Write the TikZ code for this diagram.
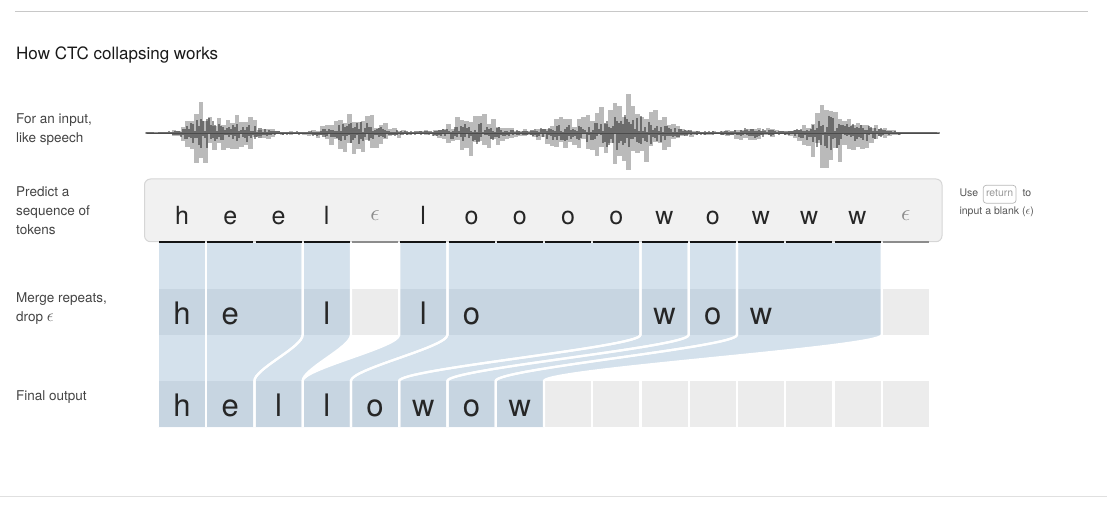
\documentclass[tikz,border=0pt]{standalone}
\usepackage{graphicx}
\usepackage{fontspec}
\setmainfont{TeX Gyre Heros}
\definecolor{flowc}{HTML}{D4E1EC}
\definecolor{cellb}{HTML}{C7D5E1}
\definecolor{cellg}{HTML}{ECECEC}
\definecolor{labc}{HTML}{444444}
\definecolor{notec}{HTML}{555555}
\definecolor{boxf}{HTML}{F1F1F1}
\definecolor{boxd}{HTML}{D6D6D6}
\definecolor{rulet}{HTML}{C8C8C8}
\definecolor{ruleb}{HTML}{E0E0E0}
\begin{document}
\begin{tikzpicture}[x=1pt,y=-1pt,
  declare function={
    gs(\ta,\tc,\tw)=exp(max(-12,-1*((\ta-\tc)/\tw)^2));
    env(\ta)=1.5+32*gs(\ta,202,16)+18*gs(\ta,240,24)+22*gs(\ta,357,30)+22*gs(\ta,475,28)
      +13*gs(\ta,560,25)+38*gs(\ta,628,40)+8*gs(\ta,752,20)+36*gs(\ta,828,22)+14*gs(\ta,866,18);
  },
  lab/.style={anchor=base west,inner sep=0pt,text=labc,font=\fontsize{13.5}{15}\selectfont},
  note/.style={anchor=base west,inner sep=0pt,text=notec,font=\fontsize{10.5}{12}\selectfont},
  tok/.style={anchor=base,inner sep=0pt,text=black!85,font=\fontsize{25}{25}\selectfont},
  epstok/.style={anchor=base,inner sep=0pt,text=black!45,font=\fontsize{10}{10}\selectfont},
  big/.style={anchor=base,inner sep=0pt,text=black!85,font=\fontsize{31}{31}\selectfont},
  cellnode/.style={minimum width=46pt,minimum height=46pt,inner sep=0pt,draw=none},
  sep/.style={draw=white,line width=2.25pt},
]
\useasboundingbox (0,0) rectangle (1107,510);
% rules
\draw[rulet,line width=1pt] (15,11.3) -- (1088,11.3);
\draw[ruleb,line width=1pt] (0,496.3) -- (1107,496.3);
% title and labels
\node[anchor=base west,inner sep=0pt,text=black!90,font=\fontsize{17}{19}\selectfont] (title) at (16,60) {How CTC collapsing works};
\node[lab] (la1) at (16,124) {For an input,};
\node[lab] (la2) at (16,143) {like speech};
\node[lab] (lb1) at (16,196.5) {Predict a};
\node[lab] (lb2) at (16,215.5) {sequence of};
\node[lab] (lb3) at (16,234.5) {tokens};
\node[lab] (lc1) at (16,302.7) {Merge repeats,};
\node[lab] (lc2) at (16,321.7) {drop \scalebox{1.2}{$\epsilon$}};
\node[lab] (ld1) at (16,400) {Final output};
% waveform
\pgfmathsetseed{12}
\foreach \x in {147,151.5,...,938} {
  \pgfmathsetmacro\ev{env(\x)}
  \pgfmathsetmacro\hup{\ev*(0.25+0.75*rnd)}
  \pgfmathsetmacro\hdn{\ev*(0.25+0.75*rnd)}
  \fill[black,opacity=0.27] (\x-2.4,133-\hup) rectangle (\x+2.4,133+\hdn);
}
\foreach \x in {147,149,...,939} {
  \pgfmathsetmacro\ev{env(\x)}
  \pgfmathsetmacro\hup{0.8+\ev*0.45*rnd}
  \pgfmathsetmacro\hdn{0.8+\ev*0.45*rnd}
  \fill[black,opacity=0.42] (\x-1,133-\hup) rectangle (\x+1,133+\hdn);
}
\draw[black!70,line width=0.8pt] (147,133) -- (939,133);
% token box
\node[draw=boxd,fill=boxf,rounded corners=6pt,line width=1pt,minimum width=797.5pt,minimum height=62.7pt,inner sep=0pt] (tbox) at (543.25,210.35) {};
% flows
\foreach \a/\b/\k in {0/0/0,1/2/1,3/3/2,5/5/3,6/9/4,10/10/5,11/11/6,12/14/7} {
  \pgfmathsetmacro\xa{159+48.25*\a-1.125}
  \pgfmathsetmacro\xb{159+48.25*\b+46+1.125}
  \pgfmathsetmacro\ka{159+48.25*\k-1.125}
  \pgfmathsetmacro\kb{159+48.25*\k+46+1.125}
  \fill[flowc] (\xa,243) -- (\xa,335) .. controls (\xa,347) and (\ka,369) .. (\ka,381) -- (\ka,427)
     -- (\kb,427) -- (\kb,381) .. controls (\kb,369) and (\xb,347) .. (\xb,335) -- (\xb,243) -- cycle;
  \fill[cellb] (\xa,289) rectangle (\xb,335);
}
% merge row blanks
\foreach \i in {4,15} {
  \fill[cellg] ({159+48.25*\i},289) rectangle ({159+48.25*\i+46},335);
}
% final row cells
\foreach \i in {0,...,15} {
  \pgfmathsetmacro\cx{159+48.25*\i+23}
  \ifnum\i<8
    \node[cellnode,fill=cellb] (f\i) at (\cx,404) {};
  \else
    \node[cellnode,fill=cellg] (f\i) at (\cx,404) {};
  \fi
}
% separators
\foreach \a/\b/\k in {0/0/0,1/2/1,3/3/2,5/5/3,6/9/4,10/10/5,11/11/6,12/14/7} {
  \pgfmathsetmacro\xa{159+48.25*\a-1.125}
  \pgfmathsetmacro\xb{159+48.25*\b+46+1.125}
  \pgfmathsetmacro\ka{159+48.25*\k-1.125}
  \pgfmathsetmacro\kb{159+48.25*\k+46+1.125}
  \draw[sep] (\xa,243) -- (\xa,335) .. controls (\xa,347) and (\ka,369) .. (\ka,381) -- (\ka,427);
  \draw[sep] (\xb,243) -- (\xb,335) .. controls (\xb,347) and (\kb,369) .. (\kb,381) -- (\kb,427);
}
% underlines
\foreach \i in {0,1,2,3,5,6,7,8,9,10,11,12,13,14} {
  \draw[black!92,line width=2pt] ({159+48.25*\i},241.7) -- ({159+48.25*\i+46},241.7);
}
\foreach \i in {4,15} {
  \draw[black!45,line width=2pt] ({159+48.25*\i},241.7) -- ({159+48.25*\i+46},241.7);
}
% tokens
\foreach \i/\c in {0/h,1/e,2/e,3/l,5/l,6/o,7/o,8/o,9/o,10/w,11/o,12/w,13/w,14/w} {
  \node[tok] (t\i) at ({159+48.25*\i+23},225) {\c};
}
\foreach \i in {4,15} {
  \node[epstok] (t\i) at ({159+48.25*\i+23},220.5) {\scalebox{2.3}{$\epsilon$}};
}
% merged letters
\foreach \i/\c in {0/h,1/e,3/l,5/l,6/o,10/w,11/o,12/w} {
  \node[big] (m\i) at ({159+48.25*\i+23},324.3) {\c};
}
% final letters
\foreach \i/\c in {0/h,1/e,2/l,3/l,4/o,5/w,6/o,7/w} {
  \node[big] (o\i) at ({159+48.25*\i+23},416.7) {\c};
}
% note
\node[note] (use) at (959.3,197) {Use};
\node[anchor=base west,draw=black!28,rounded corners=3pt,line width=0.7pt,text=black!40,
  font=\fontsize{10.5}{12}\selectfont,text height=7.5pt,text depth=2pt,inner xsep=2.8pt,inner ysep=4.2pt]
  (ret) at ([xshift=4.5pt]use.base east) {return};
\node[note] (to) at ([xshift=6pt]ret.base east) {to};
\node[note] (inp) at (959.3,215) {input a blank (\scalebox{1.1}{$\epsilon$})};
\end{tikzpicture}
\end{document}
